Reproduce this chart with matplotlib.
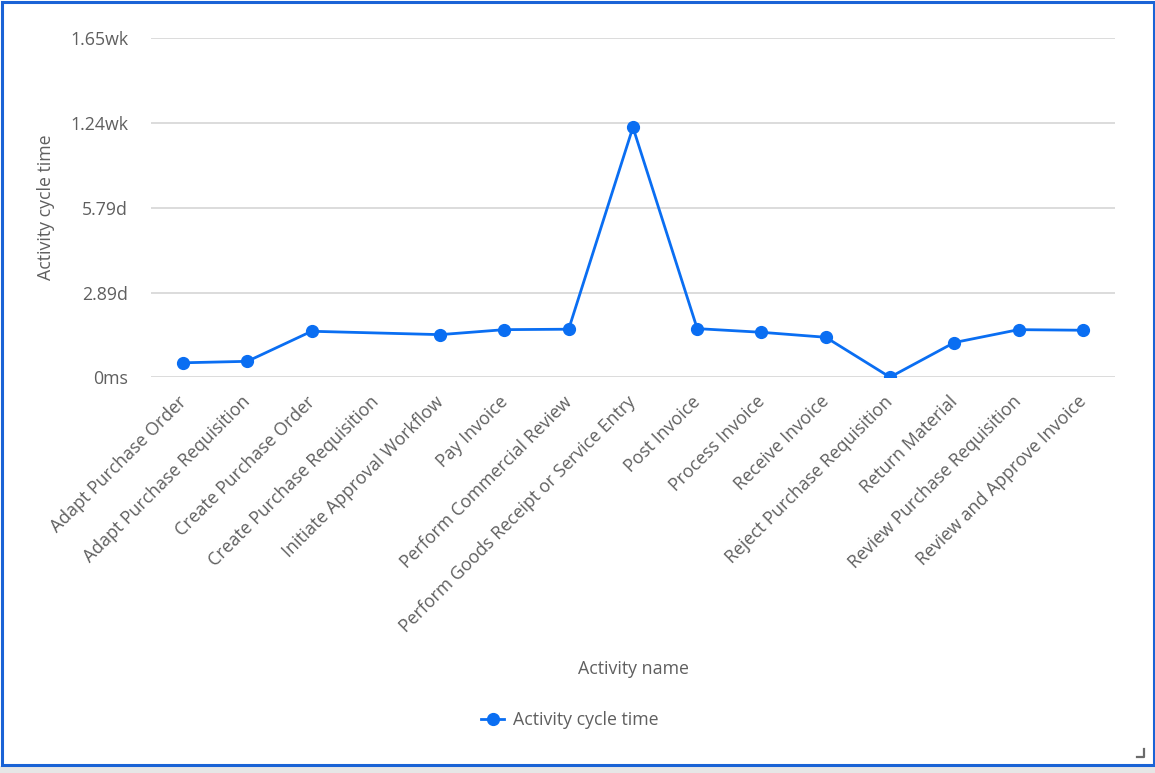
import numpy as np
import matplotlib
matplotlib.use("Agg")
import matplotlib.pyplot as plt
import matplotlib.transforms as mtransforms
from matplotlib.ticker import MultipleLocator, FuncFormatter
from matplotlib.patches import Rectangle
from matplotlib.lines import Line2D

plt.rcParams['font.family'] = ['Open Sans', 'DejaVu Sans']

activities = [
    "Adapt Purchase Order", "Adapt Purchase Requisition", "Create Purchase Order",
    "Create Purchase Requisition", "Initiate Approval Workflow", "Pay Invoice",
    "Perform Commercial Review", "Perform Goods Receipt or Service Entry",
    "Post Invoice", "Process Invoice", "Receive Invoice",
    "Reject Purchase Requisition", "Return Material",
    "Review Purchase Requisition", "Review and Approve Invoice",
]
# cycle time in days (Create Purchase Requisition has no value)
cycle_days = [0.50, 0.55, 1.575, np.nan, 1.46, 1.63, 1.645, 8.53,
              1.665, 1.54, 1.37, 0.01, 1.19, 1.63, 1.61]

tick_step = 2.894
line_color = '#0a6ef2'
text_color = '#5f5f5f'
fs = 12.8

fig = plt.figure(figsize=(11.55, 7.73), dpi=100)
ax = fig.add_axes([0.1307, 0.5117, 0.8346, 0.4392])

x = np.arange(len(activities))
y = np.array(cycle_days)
ok = ~np.isnan(y)
ax.plot(x[ok], y[ok], color=line_color, lw=2, marker='o', ms=8.5,
        label='Activity cycle time', zorder=3)

ax.set_xlim(-0.5, len(activities) - 0.5)
ax.set_ylim(0, 4 * tick_step)
ax.yaxis.set_major_locator(MultipleLocator(tick_step))


def fmt(v, pos):
    if v < 1e-6:
        return '0ms'
    if v < 7:
        return f'{v:.2f}d'
    return f'{v / 7:.2f}wk'


ax.yaxis.set_major_formatter(FuncFormatter(fmt))
ax.set_xticks(x)
ax.set_xticklabels(activities, rotation=45, ha='right', rotation_mode='anchor')
ax.tick_params(length=0, colors=text_color, labelsize=fs)
ax.tick_params(axis='y', pad=16.5)
ax.tick_params(axis='x', pad=11)
shift = mtransforms.ScaledTranslation(-6 / 100, 0, fig.dpi_scale_trans)
for lab in ax.get_xticklabels():
    lab.set_transform(lab.get_transform() + shift)
ax.grid(axis='y', color='#d9d9d9', lw=1.3)
ax.set_axisbelow(True)
for s in ax.spines.values():
    s.set_visible(False)

fig.text(0.0398, 0.732, 'Activity cycle time', rotation=90, ha='center', va='center',
         color=text_color, fontsize=fs)
fig.text(0.548, 0.134, 'Activity name', ha='center', va='center',
         color=text_color, fontsize=fs)

fig.legend(loc='center', bbox_to_anchor=(0.4935, 0.0686), frameon=False,
           fontsize=fs, labelcolor=text_color, handlelength=1.3, handletextpad=0.5)

fig.patches.append(Rectangle((0, 0), 1, 7 / 773, transform=fig.transFigure,
                             facecolor='#e6e6e6', edgecolor='none', zorder=0))
fig.patches.append(Rectangle((1.5 / 1155, 8.5 / 773), 1 - 3 / 1155, 1 - 10 / 773,
                             transform=fig.transFigure, facecolor='none',
                             edgecolor='#1a63d6', lw=2.2, zorder=5))
# resize grip
fig.lines.append(Line2D([1137 / 1155, 1144 / 1155, 1144 / 1155],
                        [1 - 757 / 773, 1 - 757 / 773, 1 - 749 / 773],
                        transform=fig.transFigure, color='#6b6b6b', lw=1.6))

fig.savefig('out.png', dpi=100)
